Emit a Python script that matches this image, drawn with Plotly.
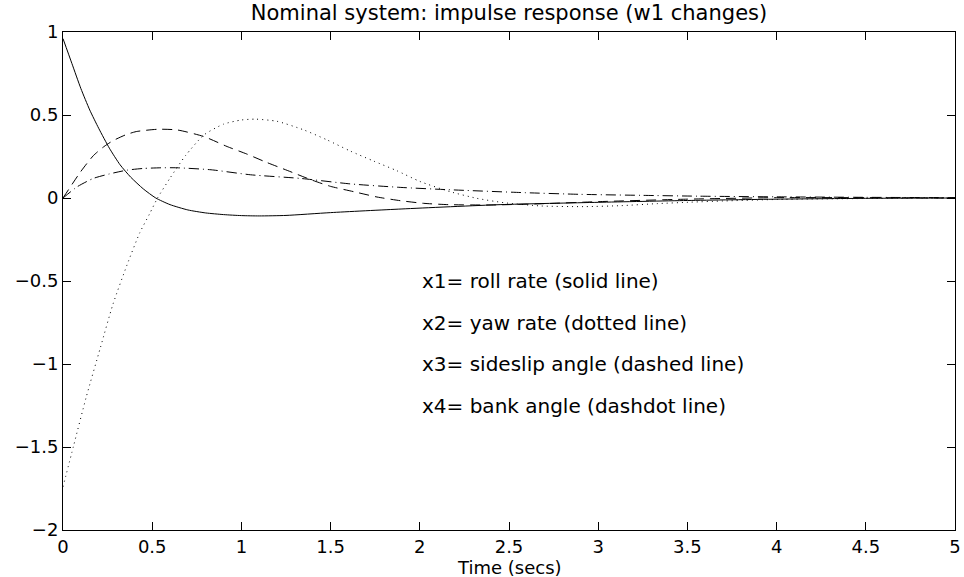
import plotly.graph_objects as go

# ---- data ----
t1 = [0, 0.05, 0.1, 0.15, 0.2, 0.26, 0.32, 0.38, 0.45, 0.52, 0.6, 0.7, 0.8, 0.9, 1.0, 1.1, 1.25, 1.5, 1.9, 2.45, 3.0, 3.5, 4.0, 4.5, 5.0]
x1_roll = [0.96, 0.81, 0.66, 0.53, 0.42, 0.3, 0.2, 0.125, 0.055, 0.0, -0.04, -0.072, -0.09, -0.1, -0.106, -0.108, -0.105, -0.088, -0.066, -0.04, -0.026, -0.015, -0.007, -0.002, 0.0]

t2 = [0, 0.06, 0.13, 0.21, 0.28, 0.36, 0.43, 0.485, 0.53, 0.6, 0.685, 0.79, 0.9, 1.0, 1.08, 1.2, 1.35, 1.48, 1.61, 1.74, 1.87, 2.0, 2.17, 2.32, 2.47, 2.68, 2.92, 3.13, 3.33, 3.52, 3.7, 4.0, 4.5, 5.0]
x2_yaw = [-1.74, -1.49, -1.2, -0.9, -0.64, -0.4, -0.21, -0.096, 0.0, 0.12, 0.253, 0.38, 0.445, 0.47, 0.475, 0.462, 0.41, 0.35, 0.283, 0.223, 0.165, 0.1, 0.038, -0.002, -0.028, -0.048, -0.052, -0.046, -0.034, -0.025, -0.018, -0.009, -0.003, 0.0]

t3 = [0, 0.1, 0.17, 0.23, 0.28, 0.35, 0.41, 0.53, 0.64, 0.79, 0.92, 1.03, 1.14, 1.26, 1.39, 1.5, 1.63, 1.76, 1.89, 2.02, 2.16, 2.4, 2.7, 3.0, 3.5, 4.0, 4.5, 5.0]
x3_sideslip = [0.0, 0.16, 0.255, 0.31, 0.345, 0.38, 0.40, 0.414, 0.41, 0.37, 0.31, 0.265, 0.215, 0.165, 0.11, 0.07, 0.038, 0.006, -0.016, -0.032, -0.04, -0.042, -0.034, -0.022, -0.007, 0.002, 0.002, 0.0]

t4 = [0, 0.08, 0.17, 0.26, 0.36, 0.45, 0.55, 0.64, 0.83, 1.05, 1.33, 1.61, 1.89, 2.16, 2.59, 2.9, 3.24, 3.56, 4.0, 4.5, 5.0]
x4_bank = [0.0, 0.068, 0.118, 0.145, 0.168, 0.178, 0.182, 0.182, 0.17, 0.14, 0.118, 0.085, 0.064, 0.05, 0.032, 0.022, 0.016, 0.011, 0.007, 0.004, 0.002]

x_tickvals = [0, 0.5, 1, 1.5, 2, 2.5, 3, 3.5, 4, 4.5, 5]
x_ticktext = ["0", "0.5", "1", "1.5", "2", "2.5", "3", "3.5", "4", "4.5", "5"]
y_tickvals = [-2, -1.5, -1, -0.5, 0, 0.5, 1]
y_ticktext = ["\u22122", "\u22121.5", "\u22121", "\u22120.5", "0", "0.5", "1"]

labels = ["x1= roll rate (solid line)", "x2= yaw rate (dotted line)",
          "x3= sideslip angle (dashed line)", "x4= bank angle (dashdot line)"]
label_y = [-0.5, -0.75, -1.0, -1.25]
label_x = 2.0

title_text = "Nominal system: impulse response (w1 changes)"
xlabel_text = "Time (secs)"

FONT = "DejaVu Sans"
FS = 20
W, H = 964, 577
ML, MR, MT, MB = 63, 9, 32, 47
plot_h = H - MT - MB

fig = go.Figure()
series = [
    (t1, x1_roll, "solid"),
    (t2, x2_yaw, "1px,4px"),
    (t3, x3_sideslip, "10px,6px"),
    (t4, x4_bank, "10px,4px,1px,4px"),
]
for tx, yy, dash in series:
    fig.add_trace(go.Scatter(x=tx, y=yy, mode="lines",
                             line=dict(color="black", width=1, dash=dash,
                                       shape="spline", smoothing=0.6),
                             showlegend=False, hoverinfo="skip"))

for txt, yv in zip(labels, label_y):
    fig.add_annotation(x=label_x, y=yv, xref="x", yref="y", text=txt,
                       showarrow=False, xanchor="left", yanchor="middle",
                       font=dict(family=FONT, size=FS, color="black"))

# x-axis label placed just below the tick labels
fig.add_annotation(x=0.5, y=-(567 - (H - MB)) / plot_h, xref="paper", yref="paper",
                   text=xlabel_text, showarrow=False, xanchor="center", yanchor="middle",
                   font=dict(family=FONT, size=18, color="black"))

axis_common = dict(showline=True, linecolor="black", linewidth=1, mirror="allticks",
                   ticks="inside", ticklen=8, tickwidth=1, tickcolor="black",
                   showgrid=False, zeroline=False, automargin=False,
                   tickfont=dict(family=FONT, size=18, color="black"))

fig.update_layout(
    width=W, height=H,
    margin=dict(l=ML, r=MR, t=MT, b=MB, autoexpand=False),
    paper_bgcolor="white", plot_bgcolor="white",
    title=dict(text=title_text, x=(ML + (W - ML - MR) / 2) / W, xanchor="center",
               y=1 - 13 / H, yanchor="middle",
               font=dict(family=FONT, size=FS + 1, color="black")),
    xaxis=dict(range=[0, 5], tickvals=x_tickvals, ticktext=x_ticktext, **axis_common),
    yaxis=dict(range=[-2, 1], tickvals=y_tickvals, ticktext=y_ticktext, **axis_common),
)

fig.write_html("out.html", config={"displayModeBar": False},
               post_script="document.body.style.margin='0';document.body.style.overflow='hidden';")
